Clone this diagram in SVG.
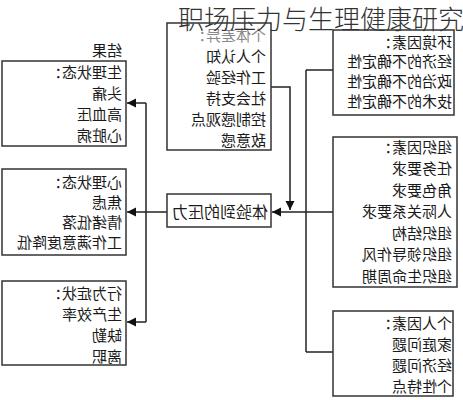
<svg xmlns="http://www.w3.org/2000/svg" width="463" height="400" viewBox="0 0 463 400">
<style>
.box{fill:#fff;stroke:#333;stroke-width:1.5}
.t{font-family:"Noto Sans CJK SC","Liberation Sans",sans-serif;font-size:15px;fill:#1a1a1a}
.c{fill:none;stroke:#222;stroke-width:1.5}
.title{font-family:"Noto Sans CJK SC","Liberation Sans",sans-serif;font-size:26px;font-weight:300;fill:#333}
</style>
<defs>
<marker id="ah" markerWidth="10" markerHeight="10" refX="9" refY="5" orient="auto" markerUnits="userSpaceOnUse">
<path d="M0,0.5 L9,5 L0,9.5 Z" fill="#111"/>
</marker>
</defs>
<rect width="463" height="400" fill="#fff"/>
<g id="connectors">
<path class="c" d="M146,103 V322"/>
<path class="c" d="M146,103 H127" marker-end="url(#ah)"/>
<path class="c" d="M167,212 H127" marker-end="url(#ah)"/>
<path class="c" d="M146,322 H127" marker-end="url(#ah)"/>
<path class="c" d="M271,87 H290 V210" marker-end="url(#ah)"/>
<path class="c" d="M306,70 V352"/>
<path class="c" d="M333,70 H306"/>
<path class="c" d="M333,352 H306"/>
<path class="c" d="M333,212 H272" marker-end="url(#ah)"/>
</g>
<g id="label-results">
<text class="t" transform="scale(-1,1)" x="-122" y="55.5">结果</text>
</g>
<g id="physio">
<rect class="box" x="2" y="61" width="124" height="85"/>
<text class="t" transform="scale(-1,1)"><tspan x="-122" y="77.5">生理状态：</tspan><tspan x="-122" y="98.5">头痛</tspan><tspan x="-122" y="119.5">高血压</tspan><tspan x="-122" y="140.5">心脏病</tspan></text>
</g>
<g id="psych">
<rect class="box" x="2" y="169" width="124" height="86"/>
<text class="t" transform="scale(-1,1)"><tspan x="-122" y="187.5">心理状态：</tspan><tspan x="-122" y="207.5">焦虑</tspan><tspan x="-122" y="227.5">情绪低落</tspan><tspan x="-122" y="247.5">工作满意度降低</tspan></text>
</g>
<g id="behav">
<rect class="box" x="2" y="281" width="124" height="84"/>
<text class="t" transform="scale(-1,1)"><tspan x="-122" y="298.5">行为症状：</tspan><tspan x="-122" y="319.5">生产效率</tspan><tspan x="-122" y="340.5">缺勤</tspan><tspan x="-122" y="361.5">离职</tspan></text>
</g>
<g id="stress">
<rect class="box" x="167" y="194" width="104" height="33"/>
<text class="t" style="font-size:16px" transform="scale(-1,1)" x="-268" y="217.5">体验到的压力</text>
</g>
<g id="individual-diff">
<rect class="box" x="167" y="23" width="104" height="127"/>
<text class="t" transform="scale(-1,1)"><tspan x="-266" y="40.5" style="fill:#8a8a8a">个体差异：</tspan><tspan x="-266" y="61.5">个人认知</tspan><tspan x="-266" y="82.5">工作经验</tspan><tspan x="-266" y="103.5">社会支持</tspan><tspan x="-266" y="124.5">控制感观点</tspan><tspan x="-266" y="145.5">敌意感</tspan></text>
</g>
<g id="environment">
<rect class="box" x="333" y="30" width="121" height="85"/>
<text class="t" transform="scale(-1,1)"><tspan x="-452" y="47.5">环境因素：</tspan><tspan x="-452" y="66.5">经济的不确定性</tspan><tspan x="-452" y="86.5">政治的不确定性</tspan><tspan x="-452" y="106.5">技术的不确定性</tspan></text>
</g>
<g id="organization">
<rect class="box" x="333" y="137" width="124" height="150"/>
<text class="t" transform="scale(-1,1)"><tspan x="-452" y="152.5">组织因素：</tspan><tspan x="-452" y="174">任务要求</tspan><tspan x="-452" y="195.5">角色要求</tspan><tspan x="-452" y="217">人际关系要求</tspan><tspan x="-452" y="238.5">组织结构</tspan><tspan x="-452" y="260">组织领导作风</tspan><tspan x="-452" y="281.5">组织生命周期</tspan></text>
</g>
<g id="personal">
<rect class="box" x="333" y="311" width="120" height="85"/>
<text class="t" transform="scale(-1,1)"><tspan x="-452" y="328.5">个人因素：</tspan><tspan x="-452" y="349.5">家庭问题</tspan><tspan x="-452" y="370.5">经济问题</tspan><tspan x="-452" y="391.5">个性特点</tspan></text>
</g>
<g id="title">
<text class="title" x="178" y="29">职场压力与生理健康研究</text>
</g>
</svg>
